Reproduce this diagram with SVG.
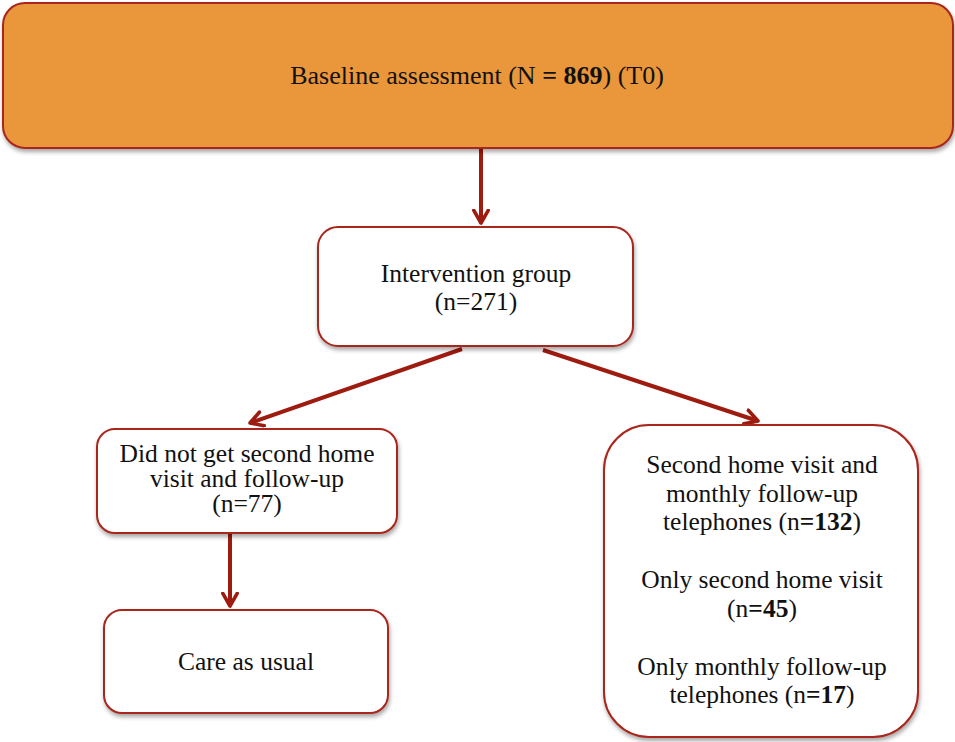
<svg xmlns="http://www.w3.org/2000/svg" width="955" height="742" viewBox="0 0 955 742">
<style>
.box{fill:#fff;stroke:#A8261C;stroke-width:2;filter:url(#sh)}
.top{fill:#EA963A;stroke:#A8261C;stroke-width:2;filter:url(#sh)}
.t{font-family:"Liberation Serif","Times New Roman",serif;font-size:25.5px;fill:#111;text-anchor:middle}
.b{font-weight:bold}
.c{stroke:#9E1B0F;stroke-width:4;fill:none;marker-end:url(#ah)}
</style>
<defs>
<filter id="sh" x="-5%" y="-5%" width="110%" height="115%">
<feDropShadow dx="1" dy="3" stdDeviation="2" flood-color="#000" flood-opacity="0.35"/>
</filter>
<marker id="ah" viewBox="0 0 10 10" refX="8" refY="5" markerWidth="4.5" markerHeight="4.5" orient="auto" markerUnits="strokeWidth">
<polyline points="1,1 8,5 1,9" fill="none" stroke="#9E1B0F" stroke-width="2" stroke-linecap="round" stroke-linejoin="round"/>
</marker>
</defs>
<g id="connectors">
<line class="c" x1="481" y1="149" x2="481" y2="223"/>
<line class="c" x1="462" y1="349" x2="250" y2="423"/>
<line class="c" x1="543" y1="350" x2="758" y2="421"/>
<line class="c" x1="230" y1="534" x2="230" y2="606"/>
</g>
<g id="baseline">
<rect class="top" x="3" y="3" width="950" height="145" rx="22"/>
<text class="t" x="477" y="84" style="font-size:26px">Baseline assessment (N <tspan class="b">= 869</tspan>) (T0)</text>
</g>
<g id="intervention">
<rect class="box" x="318" y="227" width="315" height="119" rx="20"/>
<text class="t" x="476" y="282">Intervention group</text>
<text class="t" x="476" y="310">(n=271)</text>
</g>
<g id="nosecond">
<rect class="box" x="97" y="429" width="300" height="104" rx="18"/>
<text class="t" x="247" y="462">Did not get second home</text>
<text class="t" x="247" y="487">visit and follow-up</text>
<text class="t" x="247" y="512">(n=77)</text>
</g>
<g id="care">
<rect class="box" x="104" y="610" width="284" height="103" rx="18"/>
<text class="t" x="246" y="670">Care as usual</text>
</g>
<g id="followup">
<rect class="box" x="604" y="425" width="314" height="312" rx="45"/>
<text class="t" x="762" y="473">Second home visit and</text>
<text class="t" x="762" y="502">monthly follow-up</text>
<text class="t" x="762" y="530">telephones (n<tspan class="b">=132</tspan>)</text>
<text class="t" x="762" y="588">Only second home visit</text>
<text class="t" x="762" y="617">(n<tspan class="b">=45</tspan>)</text>
<text class="t" x="762" y="675">Only monthly follow-up</text>
<text class="t" x="762" y="703">telephones (n<tspan class="b">=17</tspan>)</text>
</g>
</svg>
